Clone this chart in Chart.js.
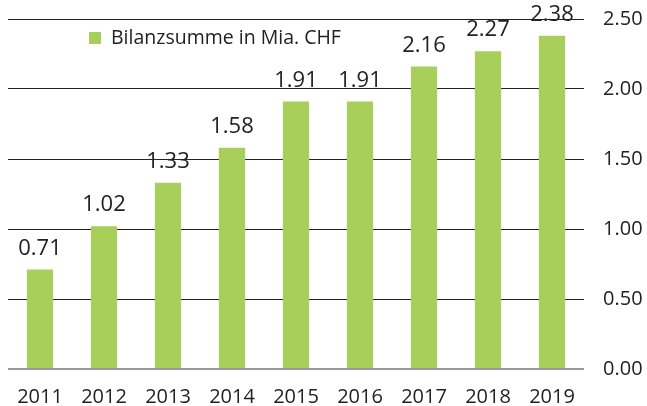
<!DOCTYPE html>
<html>
<head>
<meta charset="utf-8">
<script src="https://cdn.jsdelivr.net/npm/chart.js@4.4.1/dist/chart.umd.min.js"></script>
<style>
  html, body { margin:0; padding:0; background:#fff; }
  #wrap { width:647px; height:406px; }
</style>
</head>
<body>
<div id="wrap"><canvas id="bilanzChart" width="647" height="406"></canvas></div>
<script>
const jahre = ['2011','2012','2013','2014','2015','2016','2017','2018','2019'];
const bilanzsumme = [0.71, 1.02, 1.33, 1.58, 1.91, 1.91, 2.16, 2.27, 2.38];
const yTicks = [0, 0.5, 1, 1.5, 2, 2.5];

const fontFamily = '"Open Sans", "Noto Sans", sans-serif';

/* Werte über den Balken */
const valueLabels = {
  id:'valueLabels',
  afterDatasetsDraw(chart){
    const ctx = chart.ctx;
    const meta = chart.getDatasetMeta(0);
    ctx.save();
    ctx.font = '22px ' + fontFamily;
    ctx.fillStyle = '#222';
    ctx.textAlign = 'center';
    ctx.textBaseline = 'alphabetic';
    meta.data.forEach((bar, i) => {
      ctx.fillText(bilanzsumme[i].toFixed(2), bar.x, bar.y - 15);
    });
    ctx.restore();
  }
};

/* Legende oben links */
const legendBox = {
  id:'legendBox',
  afterDraw(chart){
    const ctx = chart.ctx;
    ctx.save();
    ctx.fillStyle = '#a7cf5a';
    ctx.fillRect(89, 32, 12, 12);
    ctx.font = '19.5px ' + fontFamily;
    ctx.fillStyle = '#222';
    ctx.textBaseline = 'alphabetic';
    ctx.fillText(chart.data.datasets[0].label, 111, 44);
    ctx.restore();
  }
};

new Chart(document.getElementById('bilanzChart'), {
  type:'bar',
  data:{
    labels:jahre,
    datasets:[{
      label:'Bilanzsumme in Mia. CHF',
      data:bilanzsumme,
      backgroundColor:'#a7cf5a',
      categoryPercentage:1,
      barPercentage:0.41
    }]
  },
  options:{
    responsive:false,
    animation:false,
    layout:{ padding:{ top:19, left:8, right:0, bottom:0 } },
    plugins:{
      legend:{ display:false },
      tooltip:{ enabled:false }
    },
    scales:{
      x:{
        grid:{ display:false },
        border:{ display:false },
        ticks:{
          color:'#222',
          font:{ family:fontFamily, size:20 },
          padding:8
        },
        afterFit(scale){ scale.height = 37; }
      },
      y:{
        position:'right',
        min:0,
        max:2.5,
        afterBuildTicks(scale){
          scale.ticks = yTicks.map(v => ({ value:v }));
        },
        grid:{
          color:ctx => ctx.tick && ctx.tick.value === 0 ? '#999' : '#222',
          lineWidth:ctx => ctx.tick && ctx.tick.value === 0 ? 2 : 1,
          drawTicks:false
        },
        border:{ display:false },
        ticks:{
          color:'#222',
          font:{ family:fontFamily, size:20 },
          padding:19,
          callback:v => v.toFixed(2)
        },
        afterFit(scale){
          scale.width = 63;
          scale.paddingTop = 0;
          scale.paddingBottom = 0;
        }
      }
    }
  },
  plugins:[valueLabels, legendBox]
});
</script>
</body>
</html>
